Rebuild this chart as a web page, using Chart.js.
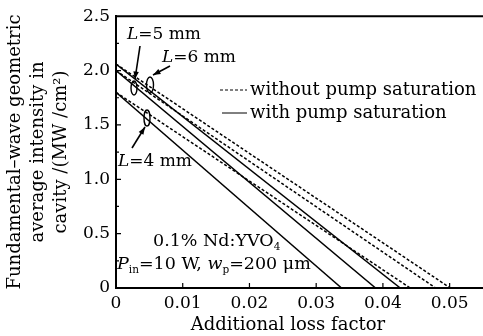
<!DOCTYPE html>
<html>
<head>
<meta charset="utf-8">
<script src="https://cdn.jsdelivr.net/npm/chart.js@4.4.1/dist/chart.umd.min.js"></script>
<style>
  html, body { margin: 0; padding: 0; background: #fff; }
  canvas { display: block; }
</style>
</head>
<body>
<canvas id="chart" width="483" height="336"></canvas>
<script>
// tick values
const xTicks = [0, 0.01, 0.02, 0.03, 0.04, 0.05];
const yTicks = [0, 0.5, 1.0, 1.5, 2.0, 2.5];
const yTickLabels = ["0", "0.5", "1.0", "1.5", "2.0", "2.5"];

// additional loss factor (start, threshold) and intensity, per cavity length
const lossL4Without = [0, 0.0441];
const lossL4With = [0, 0.0338];
const intensityL4 = [1.80, 0];

const lossL5Without = [0, 0.0479];
const lossL5With = [0, 0.0389];
const intensityL5 = [2.00, 0];

const lossL6Without = [0, 0.0501];
const lossL6With = [0, 0.0426];
const intensityL6 = [2.06, 0];

const FONT = "'DejaVu Serif', serif";

function pts(xs, ys) {
  return xs.map((x, i) => ({ x, y: ys[i] }));
}

function lineSet(label, xs, ys, dashed) {
  return {
    label,
    data: pts(xs, ys),
    showLine: true,
    borderColor: "#000",
    borderWidth: 1.5,
    borderDash: dashed ? [3, 2] : [],
    pointRadius: 0,
    fill: false,
  };
}

// draw a run of text pieces: [text, {italic, sub}]
function drawRuns(ctx, x, y, runs, size) {
  ctx.textBaseline = "middle";
  ctx.textAlign = "left";
  for (const [text, opt] of runs) {
    const o = opt || {};
    const s = o.sub ? size * 0.6 : size;
    ctx.font = (o.italic ? "italic " : "") + s + "px " + FONT;
    ctx.fillText(text, x, o.sub ? y + size * 0.35 : y);
    x += ctx.measureText(text).width;
  }
}

function arrow(ctx, x1, y1, x2, y2) {
  ctx.beginPath();
  ctx.moveTo(x1, y1);
  ctx.lineTo(x2, y2);
  ctx.lineWidth = 1.6;
  ctx.stroke();
  const a = Math.atan2(y2 - y1, x2 - x1);
  const len = 8, w = 0.35;
  ctx.beginPath();
  ctx.moveTo(x2, y2);
  ctx.lineTo(x2 - len * Math.cos(a - w), y2 - len * Math.sin(a - w));
  ctx.lineTo(x2 - len * Math.cos(a + w), y2 - len * Math.sin(a + w));
  ctx.closePath();
  ctx.fill();
}

const decorPlugin = {
  id: "decor",
  afterDraw(chart) {
    const { ctx, chartArea, scales } = chart;
    const xs = scales.x, ys = scales.y;
    ctx.save();
    ctx.strokeStyle = "#000";
    ctx.fillStyle = "#000";
    ctx.setLineDash([]);

    // top frame
    ctx.lineWidth = 2;
    ctx.beginPath();
    ctx.moveTo(chartArea.left, chartArea.top);
    ctx.lineTo(chartArea.right, chartArea.top);
    ctx.stroke();

    // inward ticks
    ctx.lineWidth = 1.2;
    ctx.beginPath();
    xTicks.forEach(v => {
      if (v === 0) return;
      const px = xs.getPixelForValue(v);
      ctx.moveTo(px, chartArea.bottom);
      ctx.lineTo(px, chartArea.bottom - 5);
    });
    for (let v = 0.25; v < 2.5; v += 0.25) {
      const py = ys.getPixelForValue(v);
      const major = Math.abs(v * 2 - Math.round(v * 2)) < 1e-6;
      ctx.moveTo(chartArea.left, py);
      ctx.lineTo(chartArea.left + (major ? 5 : 3), py);
    }
    ctx.stroke();

    // axis titles
    ctx.textAlign = "center";
    ctx.textBaseline = "middle";
    ctx.font = "18px " + FONT;
    ctx.fillText("Additional loss factor", 288, 325);

    ctx.save();
    ctx.translate(0, 152);
    ctx.rotate(-Math.PI / 2);
    ctx.fillText("Fundamental\u2013wave geometric", 0, 15);
    ctx.fillText("average intensity in", 0, 38);
    ctx.fillText("cavity /(MW /cm\u00B2)", 0, 61);
    ctx.restore();

    // legend
    ctx.lineWidth = 1;
    ctx.setLineDash([3, 2]);
    ctx.beginPath();
    ctx.moveTo(220, 90);
    ctx.lineTo(247, 90);
    ctx.stroke();
    ctx.setLineDash([]);
    ctx.beginPath();
    ctx.moveTo(222, 113);
    ctx.lineTo(247, 113);
    ctx.stroke();
    drawRuns(ctx, 250, 90, [["without pump saturation"]], 18);
    drawRuns(ctx, 250, 113, [["with pump saturation"]], 18);

    // length labels
    drawRuns(ctx, 127, 35, [["L", { italic: true }], ["=5 mm"]], 17);
    drawRuns(ctx, 162, 58, [["L", { italic: true }], ["=6 mm"]], 17);
    drawRuns(ctx, 118, 162, [["L", { italic: true }], ["=4 mm"]], 17);

    // ellipses
    ctx.lineWidth = 1.4;
    [[134, 88, 3, 7], [150, 85, 3.5, 8], [147, 118, 3, 8]].forEach(([cx, cy, rx, ry]) => {
      ctx.beginPath();
      ctx.ellipse(cx, cy, rx, ry, 0, 0, Math.PI * 2);
      ctx.stroke();
    });

    // arrows
    arrow(ctx, 140, 46, 135, 79);
    arrow(ctx, 170, 66, 153, 75);
    arrow(ctx, 132, 148, 145, 127);

    // crystal text
    drawRuns(ctx, 153, 241, [["0.1% Nd:YVO"], ["4", { sub: true }]], 17.5);
    drawRuns(ctx, 117, 264, [
      ["P", { italic: true }], ["in", { sub: true }], ["=10 W, "],
      ["w", { italic: true }], ["p", { sub: true }], ["=200 \u03BCm"],
    ], 17.5);

    ctx.restore();
  },
};

new Chart(document.getElementById("chart"), {
  type: "scatter",
  data: {
    datasets: [
      lineSet("L=4 mm without", lossL4Without, intensityL4, true),
      lineSet("L=4 mm with", lossL4With, intensityL4, false),
      lineSet("L=5 mm without", lossL5Without, intensityL5, true),
      lineSet("L=5 mm with", lossL5With, intensityL5, false),
      lineSet("L=6 mm without", lossL6Without, intensityL6, true),
      lineSet("L=6 mm with", lossL6With, intensityL6, false),
    ],
  },
  options: {
    responsive: false,
    animation: false,
    layout: { padding: { top: 16, left: 0, right: 0, bottom: 0 } },
    plugins: {
      legend: { display: false },
      tooltip: { enabled: false },
    },
    scales: {
      x: {
        type: "linear",
        min: 0,
        max: 0.055,
        afterBuildTicks: (scale) => { scale.ticks = xTicks.map(v => ({ value: v })); },
        afterFit: (scale) => { scale.height = 48; },
        grid: { display: false, drawTicks: false },
        border: { display: true, color: "#000", width: 2 },
        ticks: {
          color: "#000",
          font: { family: FONT, size: 17 },
          padding: 5,
          maxRotation: 0,
          callback: (v) => (v === 0 ? "0" : v.toFixed(2)),
        },
      },
      y: {
        type: "linear",
        min: 0,
        max: 2.5,
        afterBuildTicks: (scale) => { scale.ticks = yTicks.map(v => ({ value: v })); },
        afterFit: (scale) => { scale.width = 116; },
        grid: { display: false, drawTicks: false },
        border: { display: true, color: "#000", width: 2 },
        ticks: {
          color: "#000",
          font: { family: FONT, size: 17 },
          padding: 6,
          callback: (v) => yTickLabels[yTicks.indexOf(v)],
        },
      },
    },
  },
  plugins: [decorPlugin],
});
</script>
</body>
</html>
